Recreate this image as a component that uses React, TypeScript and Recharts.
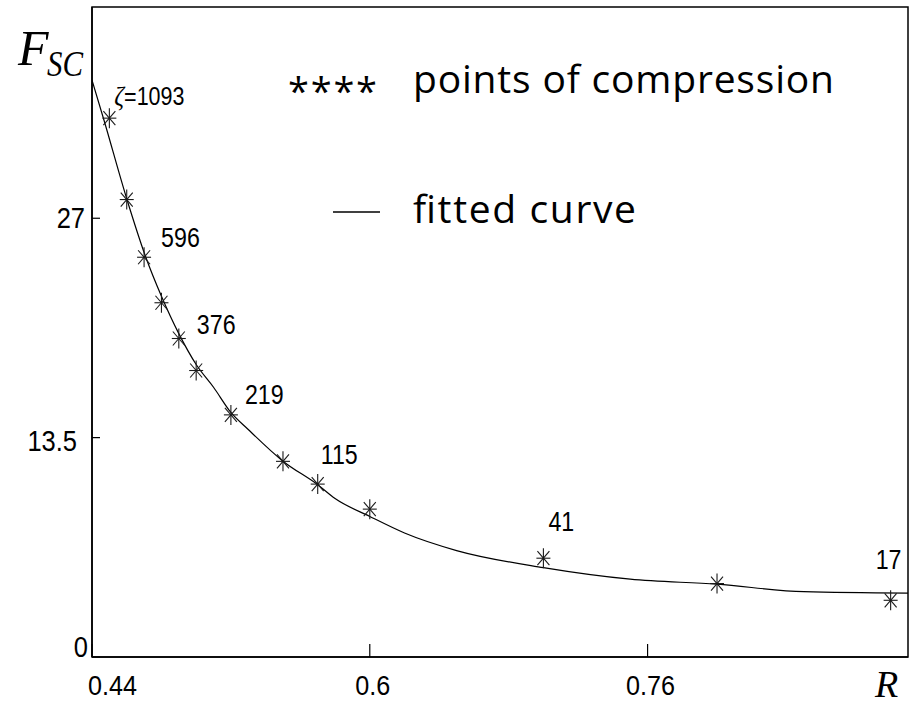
import React from 'react';
import { ComposedChart, Scatter, XAxis, YAxis, ReferenceArea, Customized } from 'recharts';

// Measured compression points: radius R vs. force F_SC
const R_SAMPLES = [0.45, 0.46, 0.47, 0.48, 0.49, 0.5, 0.52, 0.55, 0.57, 0.6, 0.7, 0.8, 0.9];
const F_SAMPLES = [33.16, 28.15, 24.6, 21.8, 19.6, 17.63, 14.9, 12.04, 10.64, 9.1, 6.08, 4.52, 3.49];
// ζ value annotated next to some of the points
const ZETA_LABELS: (string | null)[] = ['=1093', null, '596', null, '376', null, '219', null, '115', null, '41', null, '17'];

// Fitted curve, sampled along R
const CURVE_R = [0.44, 0.447, 0.46, 0.471, 0.48, 0.49, 0.5, 0.51, 0.52, 0.53, 0.55, 0.57, 0.58, 0.6, 0.62, 0.65, 0.7, 0.75, 0.8, 0.85, 0.91];
const CURVE_F = [35.5, 33.0, 28.2, 24.6, 22.2, 19.9, 18.0, 16.6, 15.05, 14.0, 12.05, 10.6, 9.75, 8.65, 7.63, 6.55, 5.5, 4.79, 4.48, 4.02, 3.93];

const X_TICKS = [0.44, 0.6, 0.76];
const Y_TICKS = [0, 13.5, 27];

const samples = R_SAMPLES.map((r, i) => ({ r, f: F_SAMPLES[i], zeta: ZETA_LABELS[i], idx: i }));
const curve = CURVE_R.map((r, i) => ({ r, f: CURVE_F[i] }));

const NUM_FONT = "'Liberation Sans', Arial, sans-serif";
const SERIF = "'Liberation Serif', 'Times New Roman', serif";
const TEXT_FONT = "'Open Sans', 'Noto Sans', sans-serif";

// where each ζ annotation sits relative to its marker (text start, baseline)
const LABEL_SHIFT: Record<number, [number, number]> = {
  0: [5, -13],
  2: [17, -10],
  4: [18, -5],
  6: [14, -11],
  8: [3, -20],
  10: [5, -27],
  12: [-15, -31],
};

// y tick label placement: [gap left of axis, baseline offset]
const Y_LABEL_POS: Record<string, [number, number]> = {
  '0': [4, 0],
  '13.5': [15, 13],
  '27': [7, 10],
};

const StarMark = (props: any) => {
  const { cx, cy, payload } = props;
  if (cx == null || cy == null) return <g />;
  const shift = LABEL_SHIFT[payload.idx];
  return (
    <g>
      <g stroke="#1a1a1a" strokeWidth={1.1}>
        <line x1={cx} y1={cy - 10} x2={cx} y2={cy + 10} />
        <line x1={cx - 7} y1={cy} x2={cx + 7} y2={cy} />
        <line x1={cx - 6} y1={cy - 7} x2={cx + 6} y2={cy + 7} />
        <line x1={cx - 6} y1={cy + 7} x2={cx + 6} y2={cy - 7} />
      </g>
      {payload.zeta && shift ? (
        <text
          transform={`translate(${cx + shift[0]},${cy + shift[1]}) scale(0.86,1)`}
          fontFamily={NUM_FONT}
          fontSize={payload.idx === 0 ? 25 : 27}
          fill="#000"
        >
          {payload.idx === 0 ? (
            <tspan fontFamily={SERIF} fontStyle="italic" fontSize={28}>ζ</tspan>
          ) : null}
          <tspan>{payload.zeta}</tspan>
        </text>
      ) : null}
    </g>
  );
};

const NoMark = () => <g />;

const XTick = (props: any) => {
  const { x, y, payload } = props;
  const first = payload.value === X_TICKS[0];
  return (
    <g>
      <line x1={x} y1={y} x2={x} y2={y - 13} stroke="#000" strokeWidth={1.2} />
      <text
        transform={`translate(${first ? x - 4 : x + 3},${y + 38}) scale(0.9,1)`}
        textAnchor={first ? 'start' : 'middle'}
        fontFamily={NUM_FONT}
        fontSize={28}
        fill="#000"
      >
        {String(payload.value)}
      </text>
    </g>
  );
};

const YTick = (props: any) => {
  const { x, y, payload } = props;
  const pos = Y_LABEL_POS[String(payload.value)] || [10, 10];
  return (
    <g>
      <line x1={x} y1={y} x2={x + 8} y2={y} stroke="#000" strokeWidth={1.2} />
      <text
        transform={`translate(${x - pos[0]},${y + pos[1]}) scale(0.85,1)`}
        textAnchor="end"
        fontFamily={NUM_FONT}
        fontSize={30}
        fill="#000"
      >
        {String(payload.value)}
      </text>
    </g>
  );
};

const Decorations = () => (
  <g>
    <text x={18} y={65} fontFamily={SERIF} fontStyle="italic" fontSize={50} fill="#000">F</text>
    <text x={47} y={76} fontFamily={SERIF} fontStyle="italic" fontSize={36} textLength={36} lengthAdjust="spacingAndGlyphs" fill="#000">SC</text>
    <text x={875} y={697} fontFamily={SERIF} fontStyle="italic" fontSize={38} fill="#000">R</text>

    <text x={288} y={105} fontFamily={TEXT_FONT} fontSize={38} textLength={89} fill="#000">****</text>
    <text x={413} y={93} fontFamily={TEXT_FONT} fontSize={39} textLength={421} fill="#000">points of compression</text>
    <line x1={333} y1={212} x2={380} y2={212} stroke="#000" strokeWidth={1.6} />
    <text x={413} y={223} fontFamily={TEXT_FONT} fontSize={39} textLength={223} fill="#000">fitted curve</text>
  </g>
);

export default function App() {
  return (
    <div style={{ position: 'absolute', left: 0, top: 0, background: '#fff' }}>
      <ComposedChart width={917} height={706} margin={{ top: 7, right: 9, bottom: 0, left: 0 }}>
        <XAxis
          dataKey="r"
          type="number"
          domain={[0.44, 0.91]}
          ticks={X_TICKS}
          interval={0}
          height={49}
          tickSize={0}
          tickMargin={0}
          tickLine={false}
          tick={<XTick />}
          axisLine={{ stroke: '#000', strokeWidth: 1.5 }}
          allowDataOverflow
        />
        <YAxis
          dataKey="f"
          type="number"
          domain={[0, 40]}
          ticks={Y_TICKS}
          interval={0}
          width={92}
          tickSize={0}
          tickMargin={0}
          tickLine={false}
          tick={<YTick />}
          axisLine={{ stroke: '#000', strokeWidth: 1.5 }}
          allowDataOverflow
        />
        <ReferenceArea x1={0.44} x2={0.91} y1={0} y2={40} fill="none" stroke="#000" strokeWidth={1.5} ifOverflow="visible" />
        <Scatter
          name="fitted curve"
          data={curve}
          dataKey="f"
          line={{ stroke: '#000', strokeWidth: 1.2 }}
          lineType="joint"
          lineJointType="monotoneX"
          shape={<NoMark />}
          isAnimationActive={false}
        />
        <Scatter
          name="points of compression"
          data={samples}
          dataKey="f"
          shape={<StarMark />}
          isAnimationActive={false}
        />
        <Customized component={<Decorations />} />
      </ComposedChart>
    </div>
  );
}
